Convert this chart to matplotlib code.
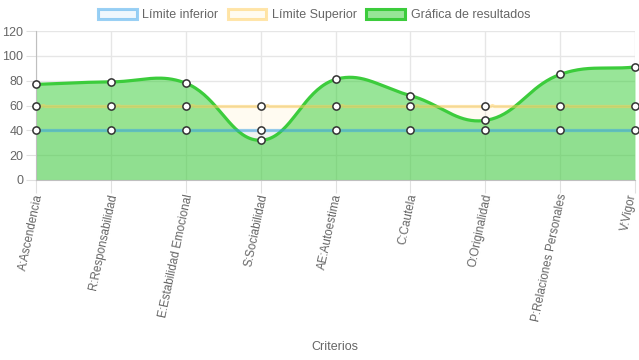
import matplotlib
matplotlib.use("Agg")
import matplotlib.pyplot as plt
import matplotlib.transforms as mtransforms
from matplotlib.patches import Patch
import numpy as np

plt.rcParams['font.family'] = ['Liberation Sans', 'DejaVu Sans']

criterios = ["A:Ascendencia", "R:Responsabilidad", "E:Estabilidad Emocional",
             "S:Sociabilidad", "AE:Autoestima", "C:Cautela", "O:Originalidad",
             "P:Relaciones Personales", "V:Vigor"]
limite_inferior = [40, 40, 40, 40, 40, 40, 40, 40, 40]
limite_superior = [60, 60, 60, 60, 60, 60, 60, 60, 60]
resultados = [77, 79, 78, 32, 81, 68, 48, 85, 91]

GRAY = "#666666"
fig = plt.figure(figsize=(6.39, 3.6), dpi=100)
ax = fig.add_axes([36 / 639, 0.5, 599 / 639, 149 / 360])
n = len(criterios)
ax.set_xlim(0, n - 1)
ax.set_ylim(0, 120)
fig.canvas.draw()


def spline(xs, ys, t=0.4, steps=40):
    # chart.js style bezier, computed in pixel space
    pts = ax.transData.transform(np.column_stack([xs, ys]))
    out = []
    for i in range(len(pts) - 1):
        p0 = pts[max(i - 1, 0)]
        p1 = pts[i]
        p2 = pts[i + 1]
        p3 = pts[min(i + 2, len(pts) - 1)]
        d01 = np.hypot(*(p1 - p0)); d12 = np.hypot(*(p2 - p1))
        fb = t * d12 / (d01 + d12) if d01 + d12 else 0
        c1 = p1 + fb * (p2 - p0)
        d23 = np.hypot(*(p3 - p2))
        fa = t * d12 / (d12 + d23) if d12 + d23 else 0
        c2 = p2 - fa * (p3 - p1)
        s = np.linspace(0, 1, steps)[:, None]
        seg = (1 - s) ** 3 * p1 + 3 * (1 - s) ** 2 * s * c1 + 3 * (1 - s) * s ** 2 * c2 + s ** 3 * p2
        out.append(seg if i == 0 else seg[1:])
    out = np.vstack(out)
    return ax.transData.inverted().transform(out)


x = np.arange(n)
series = [
    (limite_inferior, (54/255, 162/255, 235/255, 0.5), (54/255, 162/255, 235/255, 0.08), 6),
    (limite_superior, (255/255, 205/255, 86/255, 0.5), (255/255, 205/255, 86/255, 0.08), 5),
    (resultados, "#3ccc3c", (50/255, 205/255, 50/255, 0.5), 4),
]
for vals, lc, fc, z in series:
    cv = spline(x, vals)
    ax.fill_between(cv[:, 0], 0, cv[:, 1], color=fc, lw=0, zorder=2)
for vals, lc, fc, z in series:
    cv = spline(x, vals)
    ax.plot(cv[:, 0], cv[:, 1], color=lc, lw=2.3, zorder=z, solid_capstyle='round')
    ax.plot(x, vals, 'o', ms=5.2, mfc='white', mec='#333333', mew=1.1, zorder=z + 0.5,
            clip_on=False)

ax.set_yticks(range(0, 121, 20))
ax.set_xticks(x)
ax.set_xticklabels(criterios, rotation=78, ha='right', va='center', rotation_mode='anchor',
                   fontsize=8.4)
ax.grid(True, color="#e6e6e6", lw=1, zorder=0)
ax.set_axisbelow(True)
for side in ['top', 'right']:
    ax.spines[side].set_visible(False)
for side in ['left', 'bottom']:
    ax.spines[side].set_color("#bfbfbf")
ax.tick_params(axis='both', colors="#e0e0e0", labelcolor=GRAY, length=7)
ax.tick_params(axis='y', pad=2, labelsize=9)
ax.tick_params(axis='x', pad=1, length=9)
for i, lab in enumerate(ax.get_xticklabels()):
    dx = -2 if i == n - 1 else 3
    lab.set_transform(lab.get_transform() + mtransforms.ScaledTranslation(dx / 100, 0, fig.dpi_scale_trans))
fig.text(335 / 639, 1 - 347 / 360, "Criterios", color=GRAY, fontsize=9, ha='center', va='center')

handles = [
    Patch(facecolor=series[0][2], edgecolor=series[0][1], lw=2.2),
    Patch(facecolor=series[1][2], edgecolor=series[1][1], lw=2.2),
    Patch(facecolor=series[2][2], edgecolor="#3ccc3c", lw=2.2),
]
fig.legend(handles, ["Límite inferior", "Límite Superior", "Gráfica de resultados"],
           loc='center', bbox_to_anchor=(314 / 639, 1 - 15 / 360), ncol=3, frameon=False,
           fontsize=9, labelcolor=GRAY, handlelength=3.1, handleheight=0.9,
           handletextpad=0.45, columnspacing=0.75, borderaxespad=0)

fig.savefig("out.png", dpi=100)
